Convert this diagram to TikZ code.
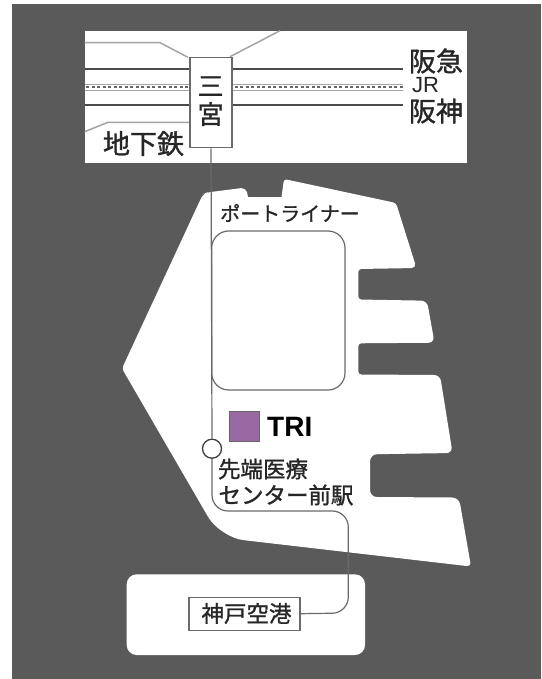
\documentclass[tikz,border=0pt]{standalone}
\usepackage{fontspec}
\setmainfont{Liberation Sans}
\newfontfamily\jp[RawFeature={embolden=1.2}]{Noto Sans CJK JP}
\definecolor{bgdark}{HTML}{5A5A5A}
\definecolor{railc}{HTML}{6A6A6A}
\definecolor{lightrail}{HTML}{A4A4A4}
\definecolor{trip}{HTML}{9A68A2}
\newcommand{\fsz}[1]{\fontsize{#1}{#1}\selectfont}
\tikzset{
  land/.style={fill=white,draw=none},
  rail/.style={draw=railc,line width=1.2pt},
  railk/.style={draw=black!70,line width=1.2pt},
  lrail/.style={draw=lightrail,line width=1.5pt},
  lab/.style={inner sep=0pt,outer sep=0pt,text=black!85,font=\jp},
  stationbox/.style={draw=railc,fill=white,line width=1.4pt,inner sep=0pt,minimum width=42pt,minimum height=90.5pt},
  airportbox/.style={draw=railc,fill=white,line width=1.4pt,inner sep=0pt,minimum width=111pt,minimum height=33pt},
}
\begin{document}
\begin{tikzpicture}[x=1pt,y=-1pt]
\useasboundingbox (0,0) rectangle (541,679);
\fill[white] (0,0) rectangle (541,679);
\fill[bgdark] (12,4) rectangle (541,679);
% top panel
\fill[land] (84.7,30.7) rectangle (467,162.7);
% island
\fill[land,rounded corners=5pt]
  (122,368.5) -- (203,194) -- (207,192.5) -- (246,187.5) [sharp corners] -- (248,197) -- (281.5,197) [rounded corners=3pt] -- (284,179) -- (396,203) [rounded corners=5pt] --
  (416.5,268) [rounded corners=3pt] -- (358.3,269) -- (358.3,299.5) [rounded corners=6pt] -- (427,300.7) -- (434.5,342.7) [rounded corners=3pt] -- (358.3,343.3) -- (358.3,374.5) [rounded corners=6pt] -- (440,375) -- (452.5,453) [rounded corners=7pt] -- (370,454.3) -- (370,497) -- (459,497.5) [rounded corners=4pt] -- (471,566.5) [rounded corners=24pt] -- (220,537.4) [rounded corners=3pt] -- cycle;
% airport island
\fill[land,rounded corners=10pt] (126.7,574.3) rectangle (365,655);
% top panel rails
\draw[lrail] (84.7,42.7) -- (160,42.7) -- (188,57.3);
\draw[lrail] (230,56.7) -- (280,30.7);
\draw[lrail] (84.7,131.7) -- (108,122.3) -- (190,122.3);
\draw[railk] (84.7,69) -- (403,69);
\draw[railk] (84.7,105) -- (403,105);
\draw[lrail,line width=0.9pt] (84.7,84.5) -- (403,84.5);
\draw[lrail,line width=0.9pt] (84.7,90) -- (403,90);
\draw[draw=black!60,line width=1.2pt,dash pattern=on 3pt off 2.5pt] (86,87) -- (403,87);
% port liner loop
\draw[rail,rounded corners=17pt] (211.7,231) rectangle (345,390);
% nodes
\node[stationbox] (stn) at (211,102.5) {};
\node[lab,font=\jp\fsz{26}] (san) at (210.7,86) {三};
\node[lab,font=\jp\fsz{26}] (miya) at (210.7,114) {宮};
\node[lab,font=\jp\fsz{27}] (hk) at (436,61) {阪急};
\node[lab,font=\fsz{22}] (jr) at (425.5,85) {JR};
\node[lab,font=\jp\fsz{27}] (hs) at (436,111) {阪神};
\node[lab,font=\jp\fsz{27}] (sub) at (143.5,143.5) {地下鉄};
\node[lab,font=\jp\fsz{20}] (pl) at (290,213) {ポートライナー};
\node[draw=black!60,fill=trip,line width=1.2pt,minimum size=30pt,inner sep=0pt] (tri) at (244.5,426.5) {};
\node[inner sep=0pt,font=\bfseries\fsz{28},anchor=west,text=black] (trilab) at (267,427) {TRI};
\node[circle,draw=black!75,fill=white,line width=1.3pt,minimum size=19pt,inner sep=0pt] (cen) at (212,448.7) {};
\node[lab,anchor=west,font=\jp\fsz{22.5}] (cen1) at (218,469) {先端医療};
\node[lab,anchor=west,font=\jp\fsz{22.5}] (cen2) at (218.5,495) {センター前駅};
\node[airportbox] (air) at (244.5,613.7) {};
\node[lab,font=\jp\fsz{22.5}] (airl) at (246.5,613.5) {神戸空港};
% connectors
\draw[rail] (stn.south) -- (cen.north);
\draw[rail,rounded corners=16pt] (cen.south) -- (cen.south |- 0,511) -- (348.3,511) -- (348.3,613) -- (air.east);
\end{tikzpicture}
\end{document}
